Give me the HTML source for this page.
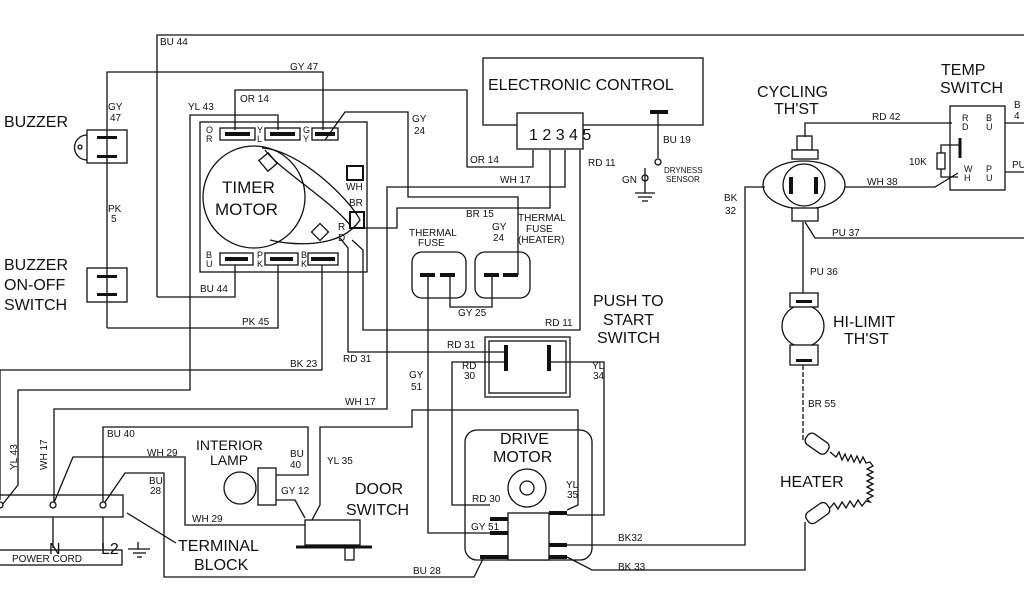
<!DOCTYPE html>
<html><head><meta charset="utf-8"><style>
html,body{margin:0;padding:0;background:#fff;width:1024px;height:600px;overflow:hidden}
svg{display:block}
text{font-family:"Liberation Sans",sans-serif;fill:#111}
.s{font-size:10px}
.b{font-size:16px}
</style></head><body>
<svg width="1024" height="600" viewBox="0 0 1024 600" xmlns="http://www.w3.org/2000/svg">
<g fill="none" stroke="#111" stroke-width="1.3">
<!-- top frame -->
<polyline points="157,297 157,35 1024,35"/>
<polyline points="157,297 235,297 235,265"/>
<!-- buzzer wire -->
<polyline points="107,328 107,72 323,72 323,130"/>
<polyline points="107,328 278,328 278,265"/>
<!-- OR 14 -->
<polyline points="235,130 235,90 467,90 467,167 533,167 533,150"/>
<!-- YL 43 -->
<polyline points="278,130 278,115 190,115 190,390 18,390 18,485 2,505"/>
<!-- BK 23 -->
<polyline points="322,265 322,370 0,370 0,500"/>
<!-- GY 24 -->
<polyline points="325,140 345,112 408,112 408,197 518,197 518,275"/>
<!-- WH 17 -->
<polyline points="565,150 565,187 387,187 387,409 54,409 54,505"/>
<!-- BR 15 -->
<polyline points="363,228 397,228 397,208 550,208 550,150"/>
<!-- RD 11 -->
<polyline points="352,240 363,250 363,330 580,330 580,150"/>
<!-- RD 31 -->
<polyline points="340,238 348,248 348,352 505,352"/>
<!-- GY 25 -->
<polyline points="450,275 450,307 492,307 492,275"/>
<!-- GY 51 -->
<polyline points="428,275 428,533 490,533"/>
<!-- RD 30 -->
<polyline points="505,362 452,362 452,505 490,505"/>
<!-- YL 34 -->
<polyline points="550,362 604,362 604,515 567,515"/>
<!-- YL 35 -->
<polyline points="312,520 320,505 320,427 412,427 412,410 578,410 578,505 567,510"/>
<!-- BU 40 -->
<polyline points="103,505 103,427 308,427 308,475 276,475"/>
<!-- WH 29 -->
<polyline points="53,505 73,457 185,457 185,525 305,525"/>
<!-- BU 28 -->
<polyline points="103,505 125,473 164,473 164,577 474,577 484,557"/>
<!-- BK 32 -->
<polyline points="567,545 745,545 745,187 765,187"/>
<!-- BK 33 -->
<polyline points="567,557 592,570 805,570 805,522"/>
<!-- PU 36 / BR 55 -->
<line x1="803" y1="222" x2="803" y2="293"/>
<line x1="803" y1="365" x2="803" y2="440" stroke-dasharray="5,2"/>
<!-- RD 42 -->
<polyline points="805,137 805,123 952,123"/>
<!-- WH 38 -->
<polyline points="845,187 935,187 958,173"/>
<!-- PU 37 -->
<polyline points="805,222 815,238 1024,238"/>
<line x1="1005" y1="123" x2="1024" y2="123"/>
<line x1="1005" y1="172" x2="1024" y2="172"/>
<!-- electronic control -->
<rect x="483" y="58" width="220" height="67"/>
<rect x="517" y="113" width="66" height="36" fill="#fff"/>
<line x1="658" y1="112" x2="658" y2="158"/>
<circle cx="658" cy="162" r="3"/>
<circle cx="645" cy="178" r="3"/>
<line x1="645" y1="168" x2="645" y2="193"/>
<line x1="635" y1="193" x2="655" y2="193"/><line x1="638" y1="197" x2="652" y2="197"/><line x1="642" y1="201" x2="648" y2="201"/>
<!-- buzzer -->
<rect x="87" y="130" width="40" height="33"/>
<path d="M87,135 A12,12 0 0 0 87,160"/>
<circle cx="80" cy="147" r="2"/>
<rect x="87" y="268" width="40" height="34"/>
<!-- timer -->
<rect x="200" y="122" width="167" height="150"/>
<circle cx="254" cy="197" r="51"/>
<path d="M262,148 C300,150 350,200 360,220 C340,250 290,245 270,240"/>
<path d="M265,150 C280,170 330,200 350,225"/>
<rect x="220" y="128" width="35" height="12"/><rect x="265" y="128" width="35" height="12"/><rect x="312" y="128" width="26" height="12"/>
<rect x="220" y="253" width="33" height="12"/><rect x="265" y="253" width="33" height="12"/><rect x="308" y="253" width="30" height="12"/>
<rect x="347" y="166" width="16" height="14" stroke-width="2"/>
<rect x="350" y="212" width="14" height="16" stroke-width="2"/>
<rect x="314" y="226" width="12" height="12" transform="rotate(45 320 232)"/>
<rect x="262" y="155" width="12" height="14" transform="rotate(-40 268 162)"/>
<!-- thermal fuses -->
<rect x="412" y="252" width="54" height="46" rx="10"/>
<rect x="475" y="252" width="55" height="46" rx="10"/>
<!-- push switch -->
<rect x="485" y="337" width="85" height="60"/>
<rect x="489" y="341" width="77" height="52"/>
<!-- drive motor -->
<rect x="465" y="430" width="127" height="130" rx="12"/>
<circle cx="527" cy="488" r="19"/>
<circle cx="527" cy="488" r="7"/>
<rect x="508" y="513" width="41" height="47" fill="#fff"/>
<!-- terminal block -->
<rect x="-2" y="495" width="125" height="22"/>
<circle cx="0" cy="505" r="3" fill="#fff"/><circle cx="53" cy="505" r="3" fill="#fff"/><circle cx="103" cy="505" r="3" fill="#fff"/>
<line x1="53" y1="517" x2="53" y2="548"/><line x1="103" y1="517" x2="103" y2="548"/>
<rect x="-2" y="550" width="124" height="15"/>
<line x1="127" y1="513" x2="176" y2="543"/>
<line x1="128" y1="549" x2="150" y2="549"/><line x1="133" y1="553" x2="146" y2="553"/><line x1="137" y1="557" x2="142" y2="557"/>
<line x1="138" y1="542" x2="138" y2="549"/>
<!-- lamp -->
<circle cx="240" cy="488" r="16"/>
<rect x="258" y="468" width="18" height="37" fill="#fff"/>
<polyline points="276,500 295,500 305,518"/>
<!-- door switch -->
<rect x="305" y="520" width="55" height="25"/>
<line x1="296" y1="547" x2="372" y2="547" stroke-width="3"/>
<rect x="345" y="548" width="9" height="12"/>
<!-- cycling th'st -->
<ellipse cx="804" cy="185" rx="41" ry="24"/>
<circle cx="804" cy="185" r="21" fill="#fff"/>
<rect x="797" y="136" width="15" height="14"/>
<rect x="792" y="150" width="26" height="9" fill="#fff"/>
<rect x="792" y="208" width="26" height="13" fill="#fff"/>
<!-- hi-limit -->
<circle cx="803" cy="326" r="21"/>
<rect x="790" y="293" width="28" height="14" fill="#fff"/>
<rect x="790" y="345" width="28" height="20" fill="#fff"/>
<!-- heater -->
<rect x="805" y="437" width="25" height="13" rx="5" transform="rotate(35 817 443)"/>
<rect x="805" y="507" width="25" height="13" rx="5" transform="rotate(-35 817 513)"/>
<polyline points="830,452 836,457 839,452 842,460 845,454 848,461 851,455 854,462 857,456 860,463 863,457 866,463 870,462 873,466 867,469 873,472 867,475 873,478 867,481 873,484 867,487 873,490 867,493 873,496 867,499 870,502 866,501 862,506 858,500 854,507 850,501 846,508 842,502 838,509 834,503 830,508"/>
<!-- temp switch -->
<rect x="950" y="106" width="55" height="84"/>
<rect x="937" y="153" width="8" height="16"/>
<polyline points="941,153 941,145 960,145"/><polyline points="941,169 941,177 958,177"/>
<line x1="960" y1="138" x2="960" y2="158" stroke-width="3"/>
</g>
<g fill="#111">
<rect x="97" y="136" width="20" height="3"/><rect x="97" y="155" width="20" height="3"/>
<rect x="97" y="275" width="20" height="3"/><rect x="97" y="293" width="20" height="3"/>
<rect x="225" y="132" width="25" height="4"/><rect x="270" y="132" width="25" height="4"/><rect x="315" y="132" width="20" height="4"/>
<rect x="225" y="257" width="23" height="4"/><rect x="270" y="257" width="23" height="4"/><rect x="311" y="257" width="24" height="4"/>
<rect x="420" y="273" width="15" height="4"/><rect x="440" y="273" width="15" height="4"/>
<rect x="484" y="273" width="15" height="4"/><rect x="503" y="273" width="15" height="4"/>
<rect x="650" y="110" width="18" height="4"/>
<rect x="504" y="345" width="4" height="26"/><rect x="547" y="345" width="4" height="26"/>
<rect x="789" y="177" width="4" height="17"/><rect x="814" y="177" width="4" height="17"/>
<rect x="490" y="517" width="18" height="4"/><rect x="490" y="531" width="18" height="4"/><rect x="480" y="555" width="28" height="4"/>
<rect x="549" y="511" width="18" height="4"/><rect x="549" y="543" width="18" height="4"/><rect x="549" y="555" width="18" height="4"/>
<rect x="796" y="300" width="16" height="3"/><rect x="796" y="359" width="16" height="3"/>
</g>
<g class="s">
<text x="160" y="45">BU 44</text>
<text x="290" y="70">GY 47</text>
<text x="108" y="110">GY</text><text x="110" y="121">47</text>
<text x="108" y="212">PK</text><text x="111" y="222">5</text>
<text x="188" y="110">YL 43</text>
<text x="240" y="102">OR 14</text>
<text x="412" y="122">GY</text><text x="414" y="134">24</text>
<text x="470" y="163">OR 14</text>
<text x="500" y="183">WH 17</text>
<text x="466" y="217">BR 15</text>
<text x="409" y="236">THERMAL</text><text x="418" y="246">FUSE</text>
<text x="492" y="230">GY</text><text x="493" y="241">24</text>
<text x="518" y="221">THERMAL</text><text x="526" y="232">FUSE</text><text x="518" y="243">(HEATER)</text>
<text x="458" y="316">GY 25</text>
<text x="545" y="326">RD 11</text>
<text x="588" y="166">RD 11</text>
<text x="663" y="143">BU 19</text>
<text x="664" y="173" style="font-size:8px">DRYNESS</text><text x="666" y="182" style="font-size:8px">SENSOR</text>
<text x="622" y="183">GN</text>
<text x="200" y="292">BU 44</text>
<text x="242" y="325">PK 45</text>
<text x="290" y="367">BK 23</text>
<text x="343" y="362">RD 31</text>
<text x="447" y="348">RD 31</text>
<text x="462" y="369">RD</text><text x="464" y="379">30</text>
<text x="592" y="369">YL</text><text x="593" y="379">34</text>
<text x="409" y="378">GY</text><text x="411" y="390">51</text>
<text x="345" y="405">WH 17</text>
<text x="107" y="437">BU 40</text>
<text x="147" y="456">WH 29</text>
<text x="149" y="484">BU</text><text x="150" y="494">28</text>
<text x="290" y="457">BU</text><text x="290" y="468">40</text>
<text x="327" y="464">YL 35</text>
<text x="281" y="494">GY 12</text>
<text x="192" y="522">WH 29</text>
<text x="472" y="502">RD 30</text>
<text x="471" y="530">GY 51</text>
<text x="566" y="488">YL</text><text x="567" y="498">35</text>
<text x="618" y="541">BK32</text>
<text x="618" y="570">BK 33</text>
<text x="413" y="574">BU 28</text>
<text x="808" y="407">BR 55</text>
<text x="810" y="275">PU 36</text>
<text x="832" y="236">PU 37</text>
<text x="724" y="201">BK</text><text x="725" y="214">32</text>
<text x="872" y="120">RD 42</text>
<text x="867" y="185">WH 38</text>
<text x="909" y="165">10K</text>
<text x="1014" y="108">B</text><text x="1014" y="119">4</text>
<text x="1012" y="168">PU</text>
<text x="962" y="121" style="font-size:9px">R</text><text x="962" y="130" style="font-size:9px">D</text>
<text x="986" y="121" style="font-size:9px">B</text><text x="986" y="130" style="font-size:9px">U</text>
<text x="964" y="172" style="font-size:9px">W</text><text x="964" y="181" style="font-size:9px">H</text>
<text x="986" y="172" style="font-size:9px">P</text><text x="986" y="181" style="font-size:9px">U</text>
<text x="206" y="133" style="font-size:9px">O</text><text x="206" y="142" style="font-size:9px">R</text>
<text x="257" y="133" style="font-size:9px">Y</text><text x="257" y="142" style="font-size:9px">L</text>
<text x="303" y="133" style="font-size:9px">G</text><text x="303" y="142" style="font-size:9px">Y</text>
<text x="206" y="258" style="font-size:9px">B</text><text x="206" y="267" style="font-size:9px">U</text>
<text x="257" y="258" style="font-size:9px">P</text><text x="257" y="267" style="font-size:9px">K</text>
<text x="301" y="258" style="font-size:9px">B</text><text x="301" y="267" style="font-size:9px">K</text>
<text x="346" y="190">WH</text><text x="349" y="206">BR</text>
<text x="338" y="230">R</text><text x="338" y="241">D</text>
<text x="12" y="562">POWER CORD</text>
<text transform="translate(17,470) rotate(-90)">YL 43</text>
<text transform="translate(47,470) rotate(-90)">WH 17</text>
</g>
<g class="b">
<text x="488" y="90">ELECTRONIC CONTROL</text>
<text x="529" y="140">1 2 3 4 5</text>
<text x="4" y="127">BUZZER</text>
<text x="4" y="270">BUZZER</text><text x="4" y="290">ON-OFF</text><text x="4" y="310">SWITCH</text>
<text x="222" y="193" style="font-size:17px">TIMER</text><text x="215" y="215" style="font-size:17px">MOTOR</text>
<text x="593" y="306">PUSH TO</text><text x="603" y="325">START</text><text x="597" y="343">SWITCH</text>
<text x="500" y="444">DRIVE</text><text x="493" y="462">MOTOR</text>
<text x="196" y="450" style="font-size:14px">INTERIOR</text><text x="210" y="465" style="font-size:14px">LAMP</text>
<text x="355" y="494">DOOR</text><text x="346" y="515">SWITCH</text>
<text x="178" y="551">TERMINAL</text><text x="194" y="570">BLOCK</text>
<text x="49" y="554">N</text><text x="101" y="554">L2</text>
<text x="757" y="97">CYCLING</text><text x="774" y="114">TH'ST</text>
<text x="941" y="75">TEMP</text><text x="940" y="93">SWITCH</text>
<text x="833" y="327">HI-LIMIT</text><text x="844" y="344">TH'ST</text>
<text x="780" y="487">HEATER</text>
</g>
</svg>
</body></html>
